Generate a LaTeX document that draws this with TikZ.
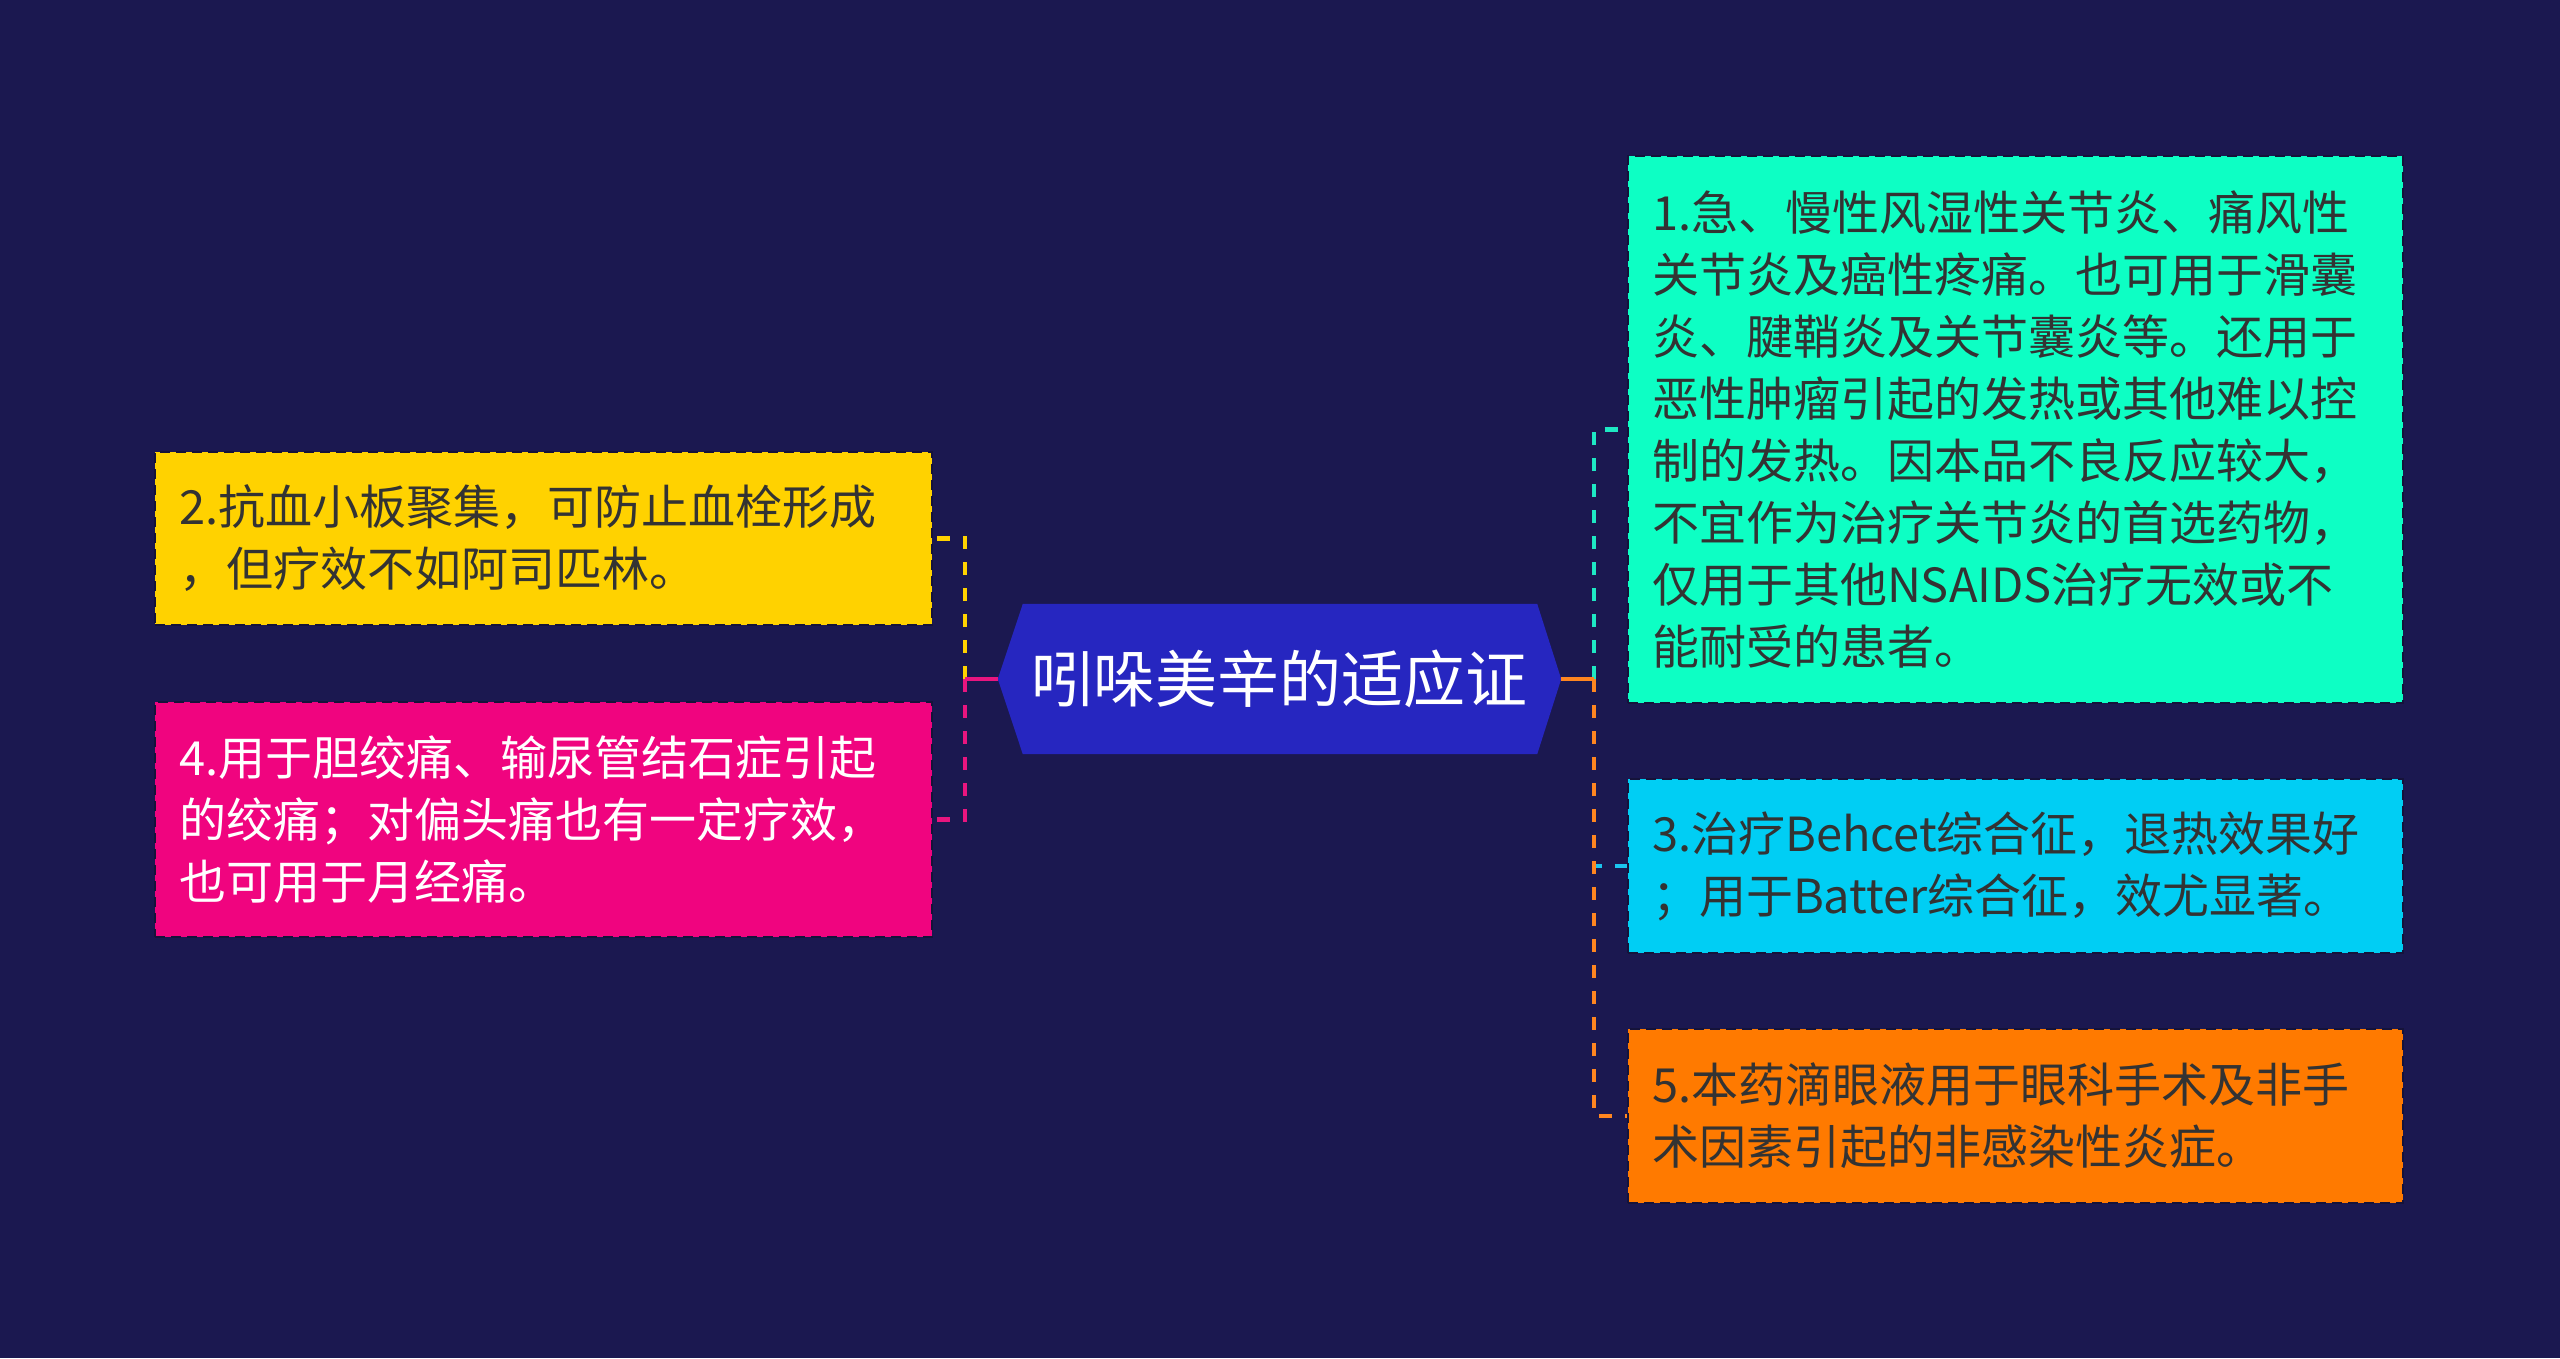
\documentclass[tikz,border=0pt]{standalone}
\usepackage{fontspec}
\setmainfont{Noto Sans CJK SC}
\usetikzlibrary{backgrounds}
\definecolor{bgc}{HTML}{1B1850}
\definecolor{hexc}{HTML}{2626C0}
\definecolor{edgec}{HTML}{15133A}
\definecolor{txtc}{HTML}{333333}
\definecolor{yellowf}{HTML}{FFD200}
\definecolor{yellowl}{HTML}{FFD200}
\definecolor{pinkf}{HTML}{F0047F}
\definecolor{pinkl}{HTML}{E9157F}
\definecolor{tealf}{HTML}{0DFFC4}
\definecolor{teall}{HTML}{1EE8C4}
\definecolor{cyanf}{HTML}{00CEF4}
\definecolor{cyanl}{HTML}{1BC5EE}
\definecolor{orangef}{HTML}{FF7A00}
\definecolor{orangel}{HTML}{FF8620}
\tikzset{
  textbox/.style={rectangle, inner xsep=24pt, inner ysep=0pt, align=left,
    font=\fontsize{47}{62}\selectfont, draw=edgec, line width=2pt,
    dash pattern=on 10pt off 6pt},
  leftbox/.style={textbox, text width=729pt, minimum width=777pt},
  rightbox/.style={textbox, text width=727pt, minimum width=775pt},
  conn/.style={line width=4.5pt},
  dashconn/.style={line width=4.5pt, dash pattern=on 13pt off 13pt},
}
\begin{document}
\begin{tikzpicture}[x=1pt,y=-1pt]
\useasboundingbox (0,0) rectangle (2560,1358);
\begin{scope}[on background layer]
\fill[bgc] (0,0) rectangle (2560,1358);
\end{scope}

% central topic
\node[minimum width=563pt, minimum height=150pt, inner sep=0pt,
      font=\fontsize{62}{70}\selectfont, text=white] (c) at (1279.5,679) {吲哚美辛的适应证};
\begin{scope}[on background layer]
\fill[hexc] (c.west) -- ([xshift=25pt]c.north west) -- ([xshift=-24pt]c.north east)
  -- (c.east) -- ([xshift=-24pt]c.south east) -- ([xshift=25pt]c.south west) -- cycle;
\end{scope}

% junction points
\coordinate (jl) at (965,679);
\coordinate (jr) at (1594,679);

% left boxes
\node[leftbox, fill=yellowf, text=txtc, minimum height=173pt] (n2) at (543.5,538.5)
  {2.抗血小板聚集，可防止血栓形成\\，但疗效不如阿司匹林。};
\node[leftbox, fill=pinkf, text=white, minimum height=235pt] (n4) at (543.5,819.5)
  {4.用于胆绞痛、输尿管结石症引起\\的绞痛；对偏头痛也有一定疗效，\\也可用于月经痛。};

% right boxes
\node[rightbox, fill=tealf, text=txtc, minimum height=547pt] (n1) at (2015.5,429.5)
  {1.急、慢性风湿性关节炎、痛风性\\关节炎及癌性疼痛。也可用于滑囊\\炎、腱鞘炎及关节囊炎等。还用于\\恶性肿瘤引起的发热或其他难以控\\制的发热。因本品不良反应较大，\\不宜作为治疗关节炎的首选药物，\\仅用于其他NSAIDS治疗无效或不\\能耐受的患者。};
\node[rightbox, fill=cyanf, text=txtc, minimum height=174pt] (n3) at (2015.5,866)
  {3.治疗Behcet综合征，退热效果好\\；用于Batter综合征，效尤显著。};
\node[rightbox, fill=orangef, text=txtc, minimum height=174pt] (n5) at (2015.5,1116)
  {5.本药滴眼液用于眼科手术及非手\\术因素引起的非感染性炎症。};

% connectors left
\draw[conn, yellowl] (c.west) -- (jl);
\draw[dashconn, yellowl] (jl) |- (n2.east);
\draw[conn, pinkl] (c.west) -- (jl);
\draw[dashconn, pinkl] (jl) |- (n4.east);

% connectors right
\draw[conn, teall] (c.east) -- (jr);
\draw[dashconn, teall] (jr) |- (n1.west);
\draw[conn, cyanl] (c.east) -- (jr);
\draw[dashconn, cyanl] (jr) |- (n3.west);
\draw[conn, orangel] (c.east) -- (jr);
\draw[dashconn, orangel] (jr) |- (n5.west);
\end{tikzpicture}
\end{document}
